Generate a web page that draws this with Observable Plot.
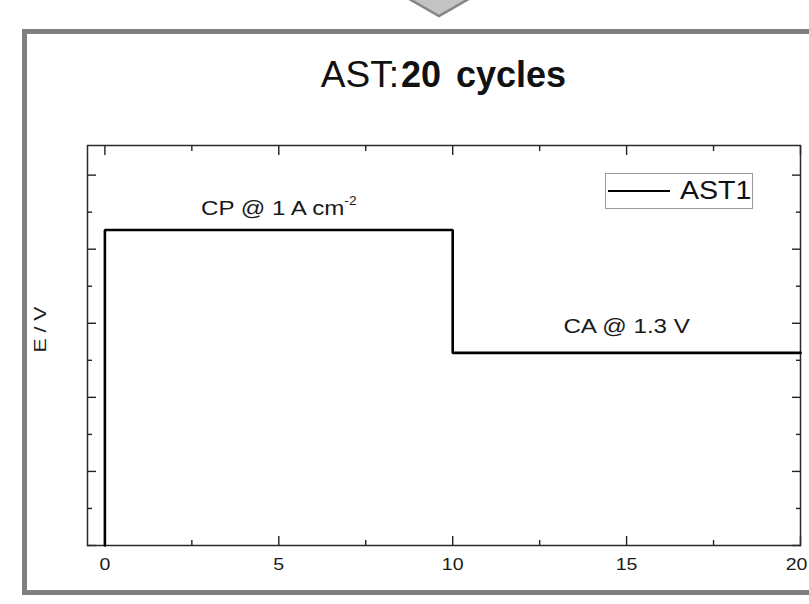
<!DOCTYPE html>
<html>
<head>
<meta charset="utf-8">
<script src="https://cdn.jsdelivr.net/npm/d3@7"></script>
<script src="https://cdn.jsdelivr.net/npm/@observablehq/plot@0.6"></script>
<style>
  html, body { margin: 0; padding: 0; overflow: hidden; background: #fff; }
  #fig { position: relative; width: 809px; height: 604px; overflow: hidden; background: #fff;
         font-family: "Liberation Sans", Arial, sans-serif; color: #111; }
  #arrow { position: absolute; left: 0; top: 0; }
  #title { position: absolute; left: 87px; width: 713px; top: 54px; text-align: center;
           white-space: nowrap; line-height: 40px; font-size: 37px; }
  #title .a { font: 37px "Liberation Sans", Arial, sans-serif; }
  #title .b { font: bold 36px "Liberation Sans", Arial, sans-serif; word-spacing: 5px; margin-left: 2px; }
  #chart { position: absolute; left: 0; top: 130px; }
  #legendBox { position: absolute; left: 605px; top: 173px; width: 148px; height: 36px;
               border: 1px solid #9a9a9a; box-sizing: border-box; }
  #legendLine { position: absolute; left: 608px; top: 189.5px; width: 62px; height: 2.5px; background: #000; }
  #legendText { position: absolute; left: 680px; top: 178.4px; font: 25.5px "Liberation Sans", Arial, sans-serif;
                line-height: 25.5px; display: inline-block; transform: scaleX(1.12); transform-origin: left center; color: #111; }
  #border { position: absolute; left: 22px; top: 29px; width: 900px; height: 566px;
            border: 5px solid #808080; box-sizing: border-box; pointer-events: none; }
</style>
</head>
<body>
<div id="fig">
  <svg id="arrow" width="809" height="40">
    <polygon points="404,-4 474,-4 439,16" fill="#c4c4c4" stroke="#858585" stroke-width="2.5"/>
  </svg>
  <div id="title"><span class="a">AST:</span><span class="b">20 cycles</span></div>
  <div id="chart"></div>
  <div id="legendBox"></div>
  <div id="legendLine"></div>
  <span id="legendText"></span>
  <div id="border"></div>
</div>
<script>
// ---- data ----
const timeS = [0, 0, 10, 10, 20];               // x values (time)
const potentialV = [0, 2.13, 2.13, 1.3, 1.3];   // E / V
const seriesName = "AST1";
const xMajorTicks = [0, 5, 10, 15, 20];
const xMinorTicks = [2.5, 7.5, 12.5, 17.5];
const yMajorTicks = [0, 0.5, 1, 1.5, 2, 2.5];
const yMinorTicks = [0.25, 0.75, 1.25, 1.75, 2.25];
const noteText = ["CP @ 1 A cm⁻²", "CA @ 1.3 V"];
const noteX = [5, 15];
const noteLevel = [2.13, 1.3];
const yLabel = "E / V";

const rows = timeS.map((t, i) => ({t, E: potentialV[i], series: seriesName}));
const notes = noteText.map((text, i) => ({text, x: noteX[i], level: noteLevel[i]}));
const lastTick = xMajorTicks[xMajorTicks.length - 1];

const tickStyle = {stroke: "#222", strokeWidth: 1.4, tickFormat: () => "", label: null};
const labelStyle = {anchor: "bottom", tickSize: 0, tickPadding: 12, fontSize: 17, fill: "#1a1a1a", label: null};

const plot = Plot.plot({
  width: 809,
  height: 474,
  marginTop: 15,
  marginBottom: 59,
  marginLeft: 87,
  marginRight: 9,
  style: {background: "transparent", overflow: "visible", fontFamily: "'Liberation Sans', Arial, sans-serif", color: "#222"},
  x: {domain: [-0.5, 20]},
  y: {domain: [0, 2.7]},
  marks: [
    Plot.axisX(xMajorTicks, {anchor: "bottom", tickSize: -9, ...tickStyle}),
    Plot.axisX(xMinorTicks, {anchor: "bottom", tickSize: -5, ...tickStyle}),
    Plot.axisX(xMajorTicks, {anchor: "top", tickSize: -9, ...tickStyle}),
    Plot.axisX(xMinorTicks, {anchor: "top", tickSize: -5, ...tickStyle}),
    Plot.axisY(yMajorTicks, {anchor: "left", tickSize: -9, ...tickStyle}),
    Plot.axisY(yMinorTicks, {anchor: "left", tickSize: -5, ...tickStyle}),
    Plot.axisY(yMajorTicks, {anchor: "right", tickSize: -9, ...tickStyle}),
    Plot.axisY(yMinorTicks, {anchor: "right", tickSize: -5, ...tickStyle}),
    Plot.axisX(xMajorTicks.filter(d => d !== lastTick), labelStyle),
    Plot.axisX([lastTick], {...labelStyle, dx: -4}),
    Plot.frame({stroke: "#2a2a2a", strokeWidth: 1.5}),
    Plot.line(rows, {x: "t", y: "E", stroke: "#000", strokeWidth: 2.6, strokeLinejoin: "miter"}),
    Plot.text(notes.slice(0, 1), {x: "x", y: "level", text: "text", lineAnchor: "bottom", dy: -15, fontSize: 21, fill: "#1a1a1a"}),
    Plot.text(notes.slice(1, 2), {x: "x", y: "level", text: "text", lineAnchor: "bottom", dy: -19.5, fontSize: 21, fill: "#1a1a1a"}),
    Plot.text([yLabel], {frameAnchor: "left", text: d => d, rotate: -90, lineAnchor: "bottom", dx: -42, dy: 7, fontSize: 17, fill: "#1a1a1a"})
  ]
});

// superscript for cm-2 and slightly wider glyphs like the original figure
plot.querySelectorAll("text").forEach(t => {
  const s = t.textContent;
  const m = s.match(/^(.*?)([⁻²]+)$/);
  if (m) {
    t.textContent = m[1];
    const ts = document.createElementNS("http://www.w3.org/2000/svg", "tspan");
    ts.setAttribute("dy", "-10");
    ts.setAttribute("font-size", "12");
    ts.textContent = m[2].replace("⁻", "-").replace("²", "2");
    t.appendChild(ts);
  }
  const tr = t.getAttribute("transform");
  const k = s === yLabel ? 1.25 : 1.15;
  if (tr) t.setAttribute("transform", tr + ` scale(${k},1)`);
});

document.getElementById("chart").appendChild(plot);
document.getElementById("legendText").textContent = seriesName;
</script>
</body>
</html>
